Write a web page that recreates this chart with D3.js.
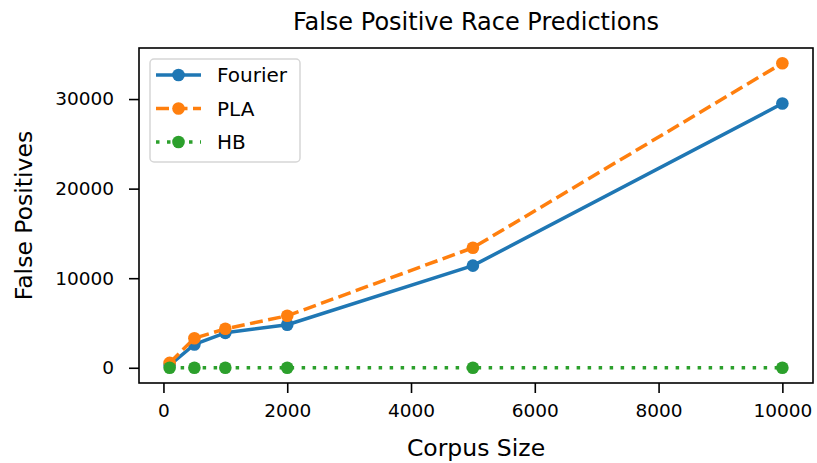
<!DOCTYPE html>
<html>
<head>
<meta charset="utf-8">
<script src="https://cdn.jsdelivr.net/npm/d3@7"></script>
<style>
  body { margin: 0; background: #fff; }
  text { font-family: "DejaVu Sans", sans-serif; fill: #000; }
</style>
</head>
<body>
<div id="chart"></div>
<script>
const FRAME_WIDTH = 817;
const FRAME_HEIGHT = 463;
const MARGINS = {left: 139, right: 4, top: 48, bottom: 80};

// data
const corpusSizes = [100, 500, 1000, 2000, 5000, 10000];
const fourierFP = [300, 2600, 3900, 4800, 11400, 29500];
const plaFP = [550, 3300, 4350, 5800, 13400, 34000];
const hbFP = [0, 0, 0, 0, 0, 0];
const xTicks = [0, 2000, 4000, 6000, 8000, 10000];
const yTicks = [0, 10000, 20000, 30000];

const series = [
  {name: "Fourier", values: fourierFP, color: "#1f77b4", dash: null},
  {name: "PLA", values: plaFP, color: "#ff7f0e", dash: "13,5.5"},
  {name: "HB", values: hbFP, color: "#2ca02c", dash: "3.5,7.5"}
];

const VIS_WIDTH = FRAME_WIDTH - MARGINS.left - MARGINS.right;
const VIS_HEIGHT = FRAME_HEIGHT - MARGINS.top - MARGINS.bottom;

const svg = d3.select("#chart")
  .append("svg")
    .attr("width", FRAME_WIDTH)
    .attr("height", FRAME_HEIGHT);

// matplotlib style 5% margins
function padded(lo, hi) {
  const m = (hi - lo) * 0.05;
  return [lo - m, hi + m];
}

const allY = [].concat(fourierFP, plaFP, hbFP);
const x = d3.scaleLinear()
  .domain(padded(d3.min(corpusSizes), d3.max(corpusSizes)))
  .range([0, VIS_WIDTH]);
const y = d3.scaleLinear()
  .domain(padded(d3.min(allY), d3.max(allY)))
  .range([VIS_HEIGHT, 0]);

const g = svg.append("g")
  .attr("transform", "translate(" + MARGINS.left + "," + MARGINS.top + ")");

// axes
const xAxis = g.append("g")
  .attr("transform", "translate(0," + VIS_HEIGHT + ")")
  .call(d3.axisBottom(x).tickValues(xTicks).tickSize(10).tickPadding(11).tickFormat(d3.format("d")));
const yAxis = g.append("g")
  .call(d3.axisLeft(y).tickValues(yTicks).tickSize(10).tickPadding(15).tickFormat(d3.format("d")));

[xAxis, yAxis].forEach(a => {
  a.select(".domain").remove();
  a.selectAll(".tick line").attr("stroke", "#000").attr("stroke-width", 1.6);
  a.selectAll(".tick text").style("font-size", "18.5px").attr("fill", "#000");
});

// lines and markers
const line = d3.line()
  .x((d, i) => x(corpusSizes[i]))
  .y(d => y(d));

series.forEach(s => {
  g.append("path")
    .datum(s.values)
    .attr("d", line)
    .attr("fill", "none")
    .attr("stroke", s.color)
    .attr("stroke-width", 3.5)
    .attr("stroke-dasharray", s.dash)
    .attr("stroke-linejoin", "round");
  g.selectAll(null)
    .data(s.values)
    .enter()
    .append("circle")
      .attr("cx", (d, i) => x(corpusSizes[i]))
      .attr("cy", d => y(d))
      .attr("r", 6.3)
      .attr("fill", s.color);
});

// frame
g.append("rect")
  .attr("width", VIS_WIDTH)
  .attr("height", VIS_HEIGHT)
  .attr("fill", "none")
  .attr("stroke", "#000")
  .attr("stroke-width", 1.6);

// legend
const legend = g.append("g").attr("transform", "translate(11,11)");
legend.append("rect")
  .attr("width", 150)
  .attr("height", 103)
  .attr("rx", 4)
  .attr("fill", "#fff")
  .attr("fill-opacity", 0.8)
  .attr("stroke", "#d6d6d6")
  .attr("stroke-width", 1.5);

series.forEach((s, i) => {
  const row = legend.append("g").attr("transform", "translate(0," + (16 + i * 33.5) + ")");
  row.append("line")
    .attr("x1", 6).attr("x2", 51)
    .attr("stroke", s.color)
    .attr("stroke-width", 3.5)
    .attr("stroke-dasharray", s.dash);
  row.append("circle")
    .attr("cx", 28.5)
    .attr("r", 6.3)
    .attr("fill", s.color);
  row.append("text")
    .attr("x", 67)
    .attr("dy", "0.36em")
    .style("font-size", "20px")
    .text(s.name);
});

// titles
svg.append("text")
  .attr("x", MARGINS.left + VIS_WIDTH / 2)
  .attr("y", 30)
  .attr("text-anchor", "middle")
  .style("font-size", "24px")
  .text("False Positive Race Predictions");

svg.append("text")
  .attr("x", MARGINS.left + VIS_WIDTH / 2)
  .attr("y", 456)
  .attr("text-anchor", "middle")
  .style("font-size", "23.5px")
  .text("Corpus Size");

svg.append("text")
  .attr("transform", "translate(32," + (MARGINS.top + VIS_HEIGHT / 2) + ") rotate(-90)")
  .attr("text-anchor", "middle")
  .style("font-size", "23.5px")
  .text("False Positives");
</script>
</body>
</html>
